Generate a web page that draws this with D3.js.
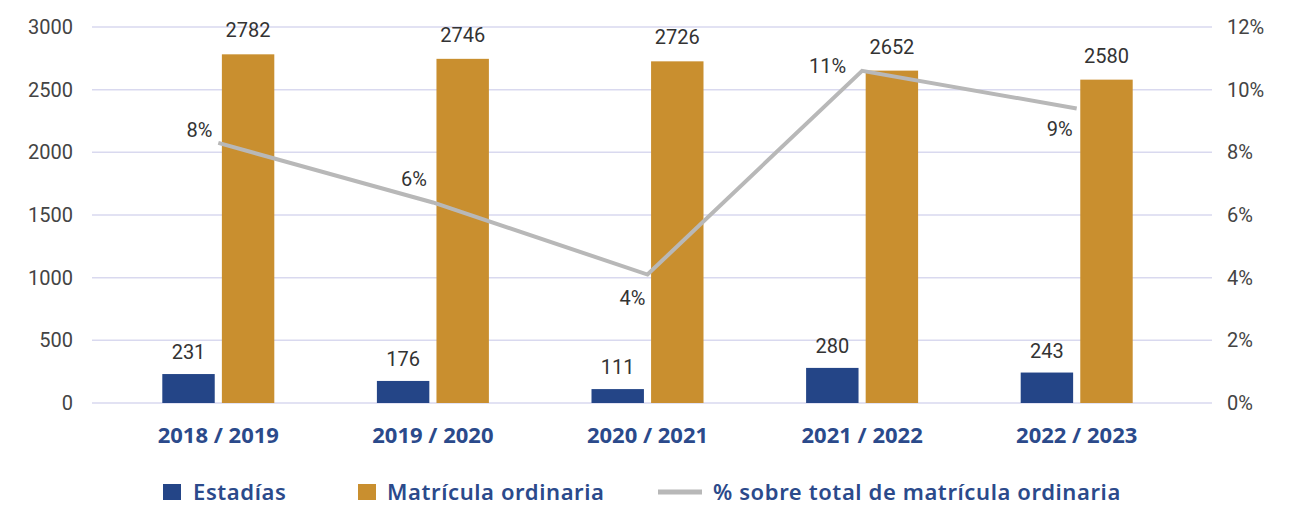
<!DOCTYPE html>
<html>
<head>
<meta charset="utf-8">
<script src="https://cdn.jsdelivr.net/npm/d3@7"></script>
<style>
  body { margin: 0; background: #fff; }
  svg text { font-family: Roboto, "Noto Sans", sans-serif; }
  .axis-num { fill: #444; font-size: 20px; }
  .val { fill: #333; font-size: 20px; }
  .cat { fill: #2b4a8b; font-size: 22px; font-weight: 700; font-family: "Noto Sans", sans-serif !important; }
  .leg { fill: #2b4a8b; font-size: 22px; font-weight: 600; letter-spacing: 0.6px; font-family: "Noto Sans", sans-serif !important; }
</style>
</head>
<body>
<script>
// data
var years = ["2018 / 2019", "2019 / 2020", "2020 / 2021", "2021 / 2022", "2022 / 2023"];
var estadias = [231, 176, 111, 280, 243];
var matricula = [2782, 2746, 2726, 2652, 2580];
var pct = [8.3, 6.4, 4.1, 10.6, 9.4];
var pctLabels = ["8%", "6%", "4%", "11%", "9%"];
var leftTicks = [0, 500, 1000, 1500, 2000, 2500, 3000];
var rightTicks = [0, 2, 4, 6, 8, 10, 12];

var W = 1294, H = 506;
var plot = {left: 92, right: 1212, top: 27, bottom: 403};

var svg = d3.select("body").append("svg")
    .attr("width", W)
    .attr("height", H);

var y = d3.scaleLinear().domain([0, 3000]).range([plot.bottom, plot.top]);
var y2 = d3.scaleLinear().domain([0, 12]).range([plot.bottom, plot.top]);
var x = d3.scaleBand().domain(years).range([111, 1184]);
var xs = d3.scaleBand().domain(["e", "m"]).range([0, 112]).paddingInner(0.12);
var barOff = (x.bandwidth() - 112) / 2;

// gridlines
svg.append("g").selectAll("line")
    .data(leftTicks)
    .enter().append("line")
    .attr("x1", plot.left).attr("x2", plot.right)
    .attr("y1", function(d) { return y(d); })
    .attr("y2", function(d) { return y(d); })
    .attr("stroke", "#d9d9ef")
    .attr("stroke-width", 1.5);

// left axis
svg.append("g").selectAll("text")
    .data(leftTicks)
    .enter().append("text")
    .attr("class", "axis-num")
    .attr("x", 73)
    .attr("y", function(d) { return y(d); })
    .attr("dy", ".35em")
    .attr("text-anchor", "end")
    .text(function(d) { return d; });

// right axis
svg.append("g").selectAll("text")
    .data(rightTicks)
    .enter().append("text")
    .attr("class", "axis-num")
    .attr("x", 1227)
    .attr("y", function(d) { return y2(d); })
    .attr("dy", ".35em")
    .text(function(d) { return d + "%"; });

var groups = svg.selectAll(".grp")
    .data(years)
    .enter().append("g")
    .attr("class", "grp")
    .attr("transform", function(d) { return "translate(" + (x(d) + barOff) + ",0)"; });

groups.append("rect")
    .attr("x", xs("e"))
    .attr("width", xs.bandwidth())
    .attr("y", function(d, i) { return y(estadias[i]); })
    .attr("height", function(d, i) { return plot.bottom - y(estadias[i]); })
    .attr("fill", "#244587");

groups.append("rect")
    .attr("x", xs("m"))
    .attr("width", xs.bandwidth())
    .attr("y", function(d, i) { return y(matricula[i]); })
    .attr("height", function(d, i) { return plot.bottom - y(matricula[i]); })
    .attr("fill", "#c98f2f");

groups.append("text")
    .attr("class", "val")
    .attr("x", xs("e") + xs.bandwidth() / 2)
    .attr("y", function(d, i) { return y(estadias[i]) - 15; })
    .attr("text-anchor", "middle")
    .text(function(d, i) { return estadias[i]; });

groups.append("text")
    .attr("class", "val")
    .attr("x", xs("m") + xs.bandwidth() / 2)
    .attr("y", function(d, i) { return y(matricula[i]) - 17; })
    .attr("text-anchor", "middle")
    .text(function(d, i) { return matricula[i]; });

// category labels
svg.append("g").selectAll("text")
    .data(years)
    .enter().append("text")
    .attr("class", "cat")
    .attr("x", function(d) { return x(d) + x.bandwidth() / 2; })
    .attr("y", 443)
    .attr("text-anchor", "middle")
    .text(function(d) { return d; });

// percentage line
var line = d3.line()
    .x(function(d, i) { return x(years[i]) + x.bandwidth() / 2; })
    .y(function(d) { return y2(d); });

svg.append("path")
    .datum(pct)
    .attr("d", line)
    .attr("fill", "none")
    .attr("stroke", "#b8b8b8")
    .attr("stroke-width", 4);

// label offsets relative to each point
var lblOff = [[-6, -6], [-6, -16], [-2, 30], [-16, 2], [-4, 28]];
svg.append("g").selectAll("text")
    .data(pct)
    .enter().append("text")
    .attr("class", "val")
    .attr("x", function(d, i) { return x(years[i]) + x.bandwidth() / 2 + lblOff[i][0]; })
    .attr("y", function(d, i) { return y2(d) + lblOff[i][1]; })
    .attr("text-anchor", "end")
    .text(function(d, i) { return pctLabels[i]; });

// legend
var leg = svg.append("g").attr("transform", "translate(0,492)");
leg.append("rect").attr("x", 163).attr("y", -8).attr("width", 18).attr("height", 16).attr("fill", "#244587");
leg.append("text").attr("class", "leg").attr("x", 193).attr("y", 8).text("Estadías");
leg.append("rect").attr("x", 358).attr("y", -8).attr("width", 18).attr("height", 16).attr("fill", "#c98f2f");
leg.append("text").attr("class", "leg").attr("x", 387).attr("y", 8).text("Matrícula ordinaria");
leg.append("line").attr("x1", 658).attr("x2", 702).attr("stroke", "#b8b8b8").attr("stroke-width", 5);
leg.append("text").attr("class", "leg").attr("x", 713).attr("y", 8).text("% sobre total de matrícula ordinaria");
</script>
</body>
</html>
